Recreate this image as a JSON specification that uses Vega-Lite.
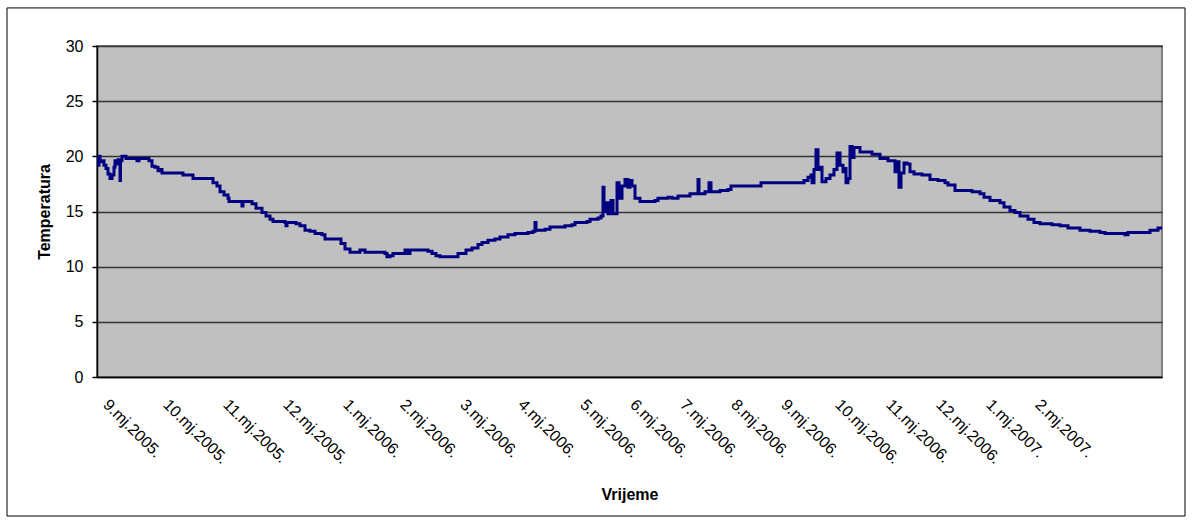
{
  "$schema": "https://vega.github.io/schema/vega-lite/v6.json",
  "width": 1065,
  "height": 331,
  "autosize": "none",
  "padding": {"left": 97, "top": 46, "right": 31, "bottom": 147},
  "background": "white",
  "config": {
    "font": "Liberation Sans",
    "view": {"fill": "#C0C0C0", "stroke": "#808080", "strokeWidth": 2},
    "axis": {"labelFont": "Liberation Sans", "titleFont": "Liberation Sans", "labelColor": "black", "titleColor": "black", "domainColor": "black", "domainWidth": 1.5}
  },
  "datasets": {
    "frame": [{"i": -90, "i2": 1088, "t": -12.6, "t2": 33.45}],
    "temp": [
      {"i": 0, "t": 19.9}, {"i": 1, "t": 19.2}, {"i": 2, "t": 20.0}, {"i": 3, "t": 19.5}, {"i": 5, "t": 19.6},
      {"i": 7, "t": 19.2}, {"i": 9, "t": 18.9}, {"i": 11, "t": 18.4}, {"i": 13, "t": 18.0}, {"i": 15, "t": 18.3},
      {"i": 17, "t": 19.0}, {"i": 18, "t": 19.6}, {"i": 20, "t": 19.3}, {"i": 21, "t": 19.7}, {"i": 22, "t": 19.5},
      {"i": 23, "t": 17.8}, {"i": 23.5, "t": 19.6}, {"i": 25, "t": 20.0}, {"i": 27, "t": 20.0}, {"i": 29, "t": 19.8},
      {"i": 38, "t": 19.8}, {"i": 40, "t": 19.6}, {"i": 42, "t": 19.8}, {"i": 49, "t": 19.8}, {"i": 52, "t": 19.6},
      {"i": 55, "t": 19.1}, {"i": 58, "t": 19.0}, {"i": 61, "t": 18.7}, {"i": 63, "t": 18.8}, {"i": 65, "t": 18.5},
      {"i": 85, "t": 18.5}, {"i": 86, "t": 18.3}, {"i": 95, "t": 18.3}, {"i": 96, "t": 18.0}, {"i": 113, "t": 18.0},
      {"i": 116, "t": 17.6}, {"i": 120, "t": 17.3}, {"i": 123, "t": 16.8}, {"i": 127, "t": 16.5}, {"i": 131, "t": 16.2},
      {"i": 132, "t": 15.9}, {"i": 144, "t": 15.9}, {"i": 145, "t": 15.5}, {"i": 146, "t": 15.9}, {"i": 151, "t": 15.9},
      {"i": 155, "t": 15.7}, {"i": 159, "t": 15.3}, {"i": 165, "t": 14.9}, {"i": 169, "t": 14.6}, {"i": 173, "t": 14.3},
      {"i": 176, "t": 14.1}, {"i": 188, "t": 14.0}, {"i": 189, "t": 13.7}, {"i": 190, "t": 14.0}, {"i": 195, "t": 14.0},
      {"i": 199, "t": 13.9}, {"i": 203, "t": 13.7}, {"i": 208, "t": 13.3}, {"i": 213, "t": 13.2}, {"i": 218, "t": 13.0},
      {"i": 225, "t": 12.9}, {"i": 228, "t": 12.5}, {"i": 241, "t": 12.5}, {"i": 244, "t": 12.1}, {"i": 248, "t": 11.6},
      {"i": 253, "t": 11.3}, {"i": 260, "t": 11.3}, {"i": 263, "t": 11.5}, {"i": 268, "t": 11.3}, {"i": 288, "t": 11.2},
      {"i": 290, "t": 10.9}, {"i": 293, "t": 11.0}, {"i": 296, "t": 11.2}, {"i": 306, "t": 11.2}, {"i": 308, "t": 11.5},
      {"i": 311, "t": 11.2}, {"i": 313, "t": 11.5}, {"i": 331, "t": 11.4}, {"i": 335, "t": 11.2}, {"i": 339, "t": 11.0},
      {"i": 343, "t": 10.9}, {"i": 358, "t": 10.9}, {"i": 361, "t": 11.2}, {"i": 369, "t": 11.5}, {"i": 375, "t": 11.7},
      {"i": 381, "t": 12.0}, {"i": 385, "t": 12.2}, {"i": 391, "t": 12.4}, {"i": 398, "t": 12.5}, {"i": 403, "t": 12.7},
      {"i": 411, "t": 12.9}, {"i": 418, "t": 13.0}, {"i": 425, "t": 13.0}, {"i": 431, "t": 13.1}, {"i": 436, "t": 13.2},
      {"i": 438, "t": 14.0}, {"i": 439, "t": 13.3}, {"i": 448, "t": 13.4}, {"i": 453, "t": 13.6}, {"i": 468, "t": 13.7},
      {"i": 475, "t": 13.8}, {"i": 478, "t": 14.0}, {"i": 490, "t": 14.1}, {"i": 493, "t": 14.3}, {"i": 501, "t": 14.4},
      {"i": 504, "t": 14.6}, {"i": 506, "t": 17.2}, {"i": 507, "t": 15.0}, {"i": 509, "t": 15.8}, {"i": 511, "t": 14.8},
      {"i": 514, "t": 16.0}, {"i": 516, "t": 14.8}, {"i": 520, "t": 17.6}, {"i": 522, "t": 16.2}, {"i": 525, "t": 17.3},
      {"i": 528, "t": 17.9}, {"i": 531, "t": 17.2}, {"i": 533, "t": 17.8}, {"i": 535, "t": 17.3}, {"i": 538, "t": 16.2},
      {"i": 543, "t": 15.9}, {"i": 558, "t": 16.0}, {"i": 561, "t": 16.2}, {"i": 571, "t": 16.3}, {"i": 575, "t": 16.2},
      {"i": 581, "t": 16.4}, {"i": 593, "t": 16.6}, {"i": 600, "t": 16.6}, {"i": 601, "t": 17.9}, {"i": 602, "t": 16.6},
      {"i": 608, "t": 16.8}, {"i": 612, "t": 17.6}, {"i": 614, "t": 16.8}, {"i": 623, "t": 16.9}, {"i": 631, "t": 17.0},
      {"i": 634, "t": 17.3}, {"i": 661, "t": 17.3}, {"i": 664, "t": 17.6}, {"i": 703, "t": 17.6}, {"i": 707, "t": 17.8},
      {"i": 711, "t": 18.1}, {"i": 714, "t": 18.3}, {"i": 715, "t": 17.6}, {"i": 717, "t": 18.8}, {"i": 719, "t": 20.6},
      {"i": 721, "t": 18.8}, {"i": 723, "t": 19.0}, {"i": 725, "t": 17.7}, {"i": 729, "t": 18.0}, {"i": 733, "t": 18.3},
      {"i": 737, "t": 18.8}, {"i": 740, "t": 20.3}, {"i": 743, "t": 19.2}, {"i": 746, "t": 18.6}, {"i": 748, "t": 18.9},
      {"i": 749, "t": 17.6}, {"i": 751, "t": 18.0}, {"i": 753, "t": 20.9}, {"i": 755, "t": 19.9}, {"i": 757, "t": 20.8},
      {"i": 763, "t": 20.4}, {"i": 771, "t": 20.4}, {"i": 775, "t": 20.2}, {"i": 783, "t": 19.8}, {"i": 791, "t": 19.6},
      {"i": 796, "t": 19.6}, {"i": 798, "t": 18.6}, {"i": 800, "t": 19.5}, {"i": 802, "t": 17.2}, {"i": 804, "t": 18.5},
      {"i": 807, "t": 19.4}, {"i": 810, "t": 19.3}, {"i": 813, "t": 18.6}, {"i": 817, "t": 18.4}, {"i": 825, "t": 18.3},
      {"i": 833, "t": 17.9}, {"i": 841, "t": 17.8}, {"i": 848, "t": 17.6}, {"i": 851, "t": 17.4}, {"i": 855, "t": 17.4},
      {"i": 858, "t": 16.9}, {"i": 871, "t": 16.9}, {"i": 875, "t": 16.8}, {"i": 883, "t": 16.6}, {"i": 887, "t": 16.3},
      {"i": 893, "t": 16.0}, {"i": 903, "t": 15.8}, {"i": 907, "t": 15.4}, {"i": 913, "t": 15.1}, {"i": 918, "t": 14.9},
      {"i": 923, "t": 14.6}, {"i": 931, "t": 14.3}, {"i": 937, "t": 14.0}, {"i": 943, "t": 13.9}, {"i": 955, "t": 13.8},
      {"i": 963, "t": 13.7}, {"i": 971, "t": 13.5}, {"i": 983, "t": 13.3}, {"i": 993, "t": 13.2}, {"i": 1003, "t": 13.1},
      {"i": 1008, "t": 13.0}, {"i": 1028, "t": 12.9}, {"i": 1031, "t": 13.1}, {"i": 1043, "t": 13.1}, {"i": 1053, "t": 13.3},
      {"i": 1059, "t": 13.3}, {"i": 1061, "t": 13.5}, {"i": 1065, "t": 13.4}
    ]
  },
  "layer": [
    {
      "data": {"name": "frame"},
      "mark": {"type": "rect", "fill": null, "fillOpacity": 0, "stroke": "black", "strokeWidth": 1, "clip": false},
      "encoding": {
        "x": {"field": "i", "type": "quantitative"},
        "x2": {"field": "i2"},
        "y": {"field": "t", "type": "quantitative"},
        "y2": {"field": "t2"}
      }
    },
    {
      "data": {"name": "temp"},
      "mark": {"type": "line", "color": "#000080", "strokeWidth": 3, "interpolate": "step-after", "clip": true},
      "encoding": {
        "x": {
          "field": "i", "type": "quantitative",
          "scale": {"domain": [0, 1065], "nice": false, "zero": false},
          "axis": {
            "title": "Vrijeme", "titleFontSize": 16, "titleFontWeight": "bold", "titleY": 117, "titleBaseline": "middle",
            "values": [14, 74, 134, 194, 254, 311, 371, 429, 491, 541, 591, 642, 692, 746, 797, 847, 897, 946],
            "labelExpr": "['9.mj.2005.','10.mj.2005.','11.mj.2005.','12.mj.2005.','1.mj.2006.','2.mj.2006.','3.mj.2006.','4.mj.2006.','5.mj.2006.','6.mj.2006.','7.mj.2006.','8.mj.2006.','9.mj.2006.','10.mj.2006.','11.mj.2006.','12.mj.2006.','1.mj.2007.','2.mj.2007.'][indexof([14,74,134,194,254,311,371,429,491,541,591,642,692,746,797,847,897,946], datum.value)]",
            "labelAngle": 45, "labelAlign": "left", "labelBaseline": "top", "labelFontSize": 16,
            "labelPadding": 19, "ticks": false, "tickSize": 0, "grid": false, "labelOverlap": false, "labelBound": false, "labelFlush": false
          }
        },
        "y": {
          "field": "t", "type": "quantitative",
          "scale": {"domain": [0, 30], "nice": false},
          "axis": {
            "title": "Temperatura", "titleFontSize": 16, "titleFontWeight": "bold", "titlePadding": 13,
            "values": [0, 5, 10, 15, 20, 25, 30], "labelFontSize": 16, "labelPadding": 9,
            "ticks": true, "tickSize": 5, "tickColor": "black", "tickWidth": 1.5,
            "grid": true, "gridColor": "#333333", "gridWidth": 1.3
          }
        }
      }
    }
  ]
}
